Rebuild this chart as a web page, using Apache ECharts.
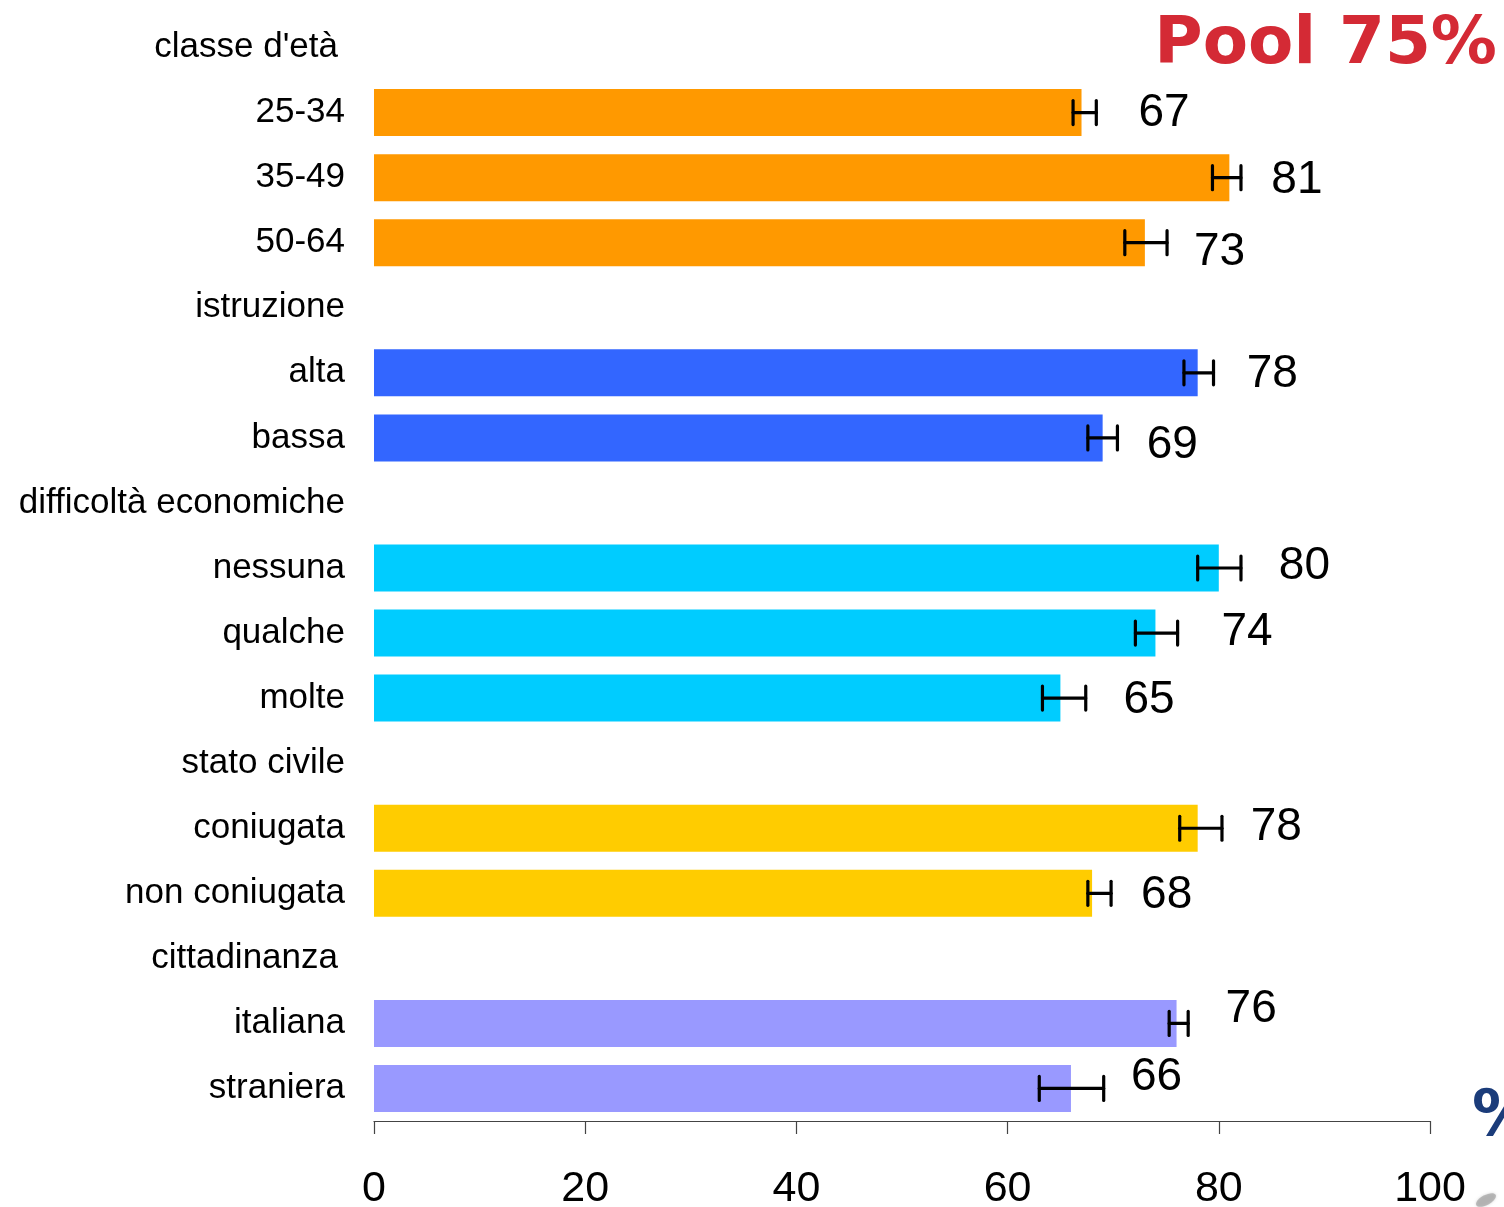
<!DOCTYPE html>
<html>
<head>
<meta charset="utf-8">
<title>Pool 75%</title>
<script src="https://cdn.jsdelivr.net/npm/echarts@6/dist/echarts.min.js"></script>
<style>
  html, body { margin: 0; padding: 0; background: #ffffff; }
  #chart { width: 1504px; height: 1207px; }
</style>
</head>
<body>
<div id="chart"></div>
<script>
// Row labels, top to bottom (group headers have no bar)
const categories = [
  "classe d'età", '25-34', '35-49', '50-64',
  'istruzione', 'alta', 'bassa',
  'difficoltà economiche', 'nessuna', 'qualche', 'molte',
  'stato civile', 'coniugata', 'non coniugata',
  'cittadinanza', 'italiana', 'straniera'
];

// Percentages per row (null on header rows)
const values = [null, 67, 81, 73, null, 78, 69, null, 80, 74, 65, null, 78, 68, null, 76, 66];
// 95% confidence interval bounds
const ciLow  = [null, 66.2, 79.4, 71.1, null, 76.7, 67.6, null, 78.0, 72.1, 63.3, null, 76.3, 67.6, null, 75.3, 63.0];
const ciHigh = [null, 68.4, 82.1, 75.1, null, 79.5, 70.4, null, 82.1, 76.1, 67.4, null, 80.3, 69.8, null, 77.1, 69.1];

const xTicks = [0, 20, 40, 60, 80, 100];

// Bar colour per group
const groupColors = {
  age: '#FF9900', edu: '#3366FF', econ: '#00CCFF', civil: '#FFCC00', citiz: '#9999FF'
};
const rowGroup = [null, 'age', 'age', 'age', null, 'edu', 'edu', null, 'econ', 'econ', 'econ',
  null, 'civil', 'civil', null, 'citiz', 'citiz'];

// Pixel nudges for the value labels [dx from bar end, dy from bar centre]
const labelNudge = [null, [57, 1], [42, 3], [49, 10], null, [49, 1], [44, 7], null,
  [60, -2], [66, -1], [63, 2], null, [53, -1], [49, 2], null, [49, -14], [60, -11]];

const FONT = '"Liberation Sans", Arial, Helvetica, sans-serif';

const chart = echarts.init(document.getElementById('chart'), null, { renderer: 'canvas' });

const barData = values.map((v, i) => v == null ? '-' : {
  value: v,
  itemStyle: { color: groupColors[rowGroup[i]] }
});

const ciData = values.map((v, i) => v == null ? [i, '-', '-'] : [i, ciLow[i], ciHigh[i]]);
const labelData = values.map((v, i) => v == null ? [i, '-'] : [i, v]);

const option = {
  animation: false,
  backgroundColor: '#ffffff',
  grid: { left: 374, right: 74, top: 15, bottom: 86, containLabel: false, outerBoundsMode: 'none' },
  xAxis: {
    type: 'value',
    min: 0, max: 100, interval: 20,
    splitLine: { show: false },
    axisLine: { show: true, lineStyle: { color: '#444444', width: 1.2 } },
    axisTick: { show: true, length: 13, lineStyle: { color: '#444444', width: 1.2 } },
    axisLabel: {
      color: '#000000', fontSize: 43, fontFamily: FONT, margin: 47,
      formatter: v => xTicks.includes(v) ? String(v) : ''
    }
  },
  yAxis: {
    type: 'category',
    data: categories,
    inverse: true,
    axisLine: { show: false },
    axisTick: { show: false },
    axisLabel: {
      color: '#000000', fontSize: 35, fontFamily: FONT, margin: 29,
      formatter: v => (v === "classe d'età" || v === 'cittadinanza') ? '{s|' + v + '}' : v,
      rich: { s: { fontSize: 35, fontFamily: FONT, color: '#000000', padding: [0, 7, 0, 0] } }
    }
  },
  series: [
    {
      type: 'bar',
      data: barData,
      barWidth: 47,
      label: { show: false }
    },
    {
      // confidence-interval whiskers
      type: 'custom',
      data: ciData,
      encode: { y: 0, x: [1, 2] },
      z: 5,
      renderItem: function (params, api) {
        const i = api.value(0);
        const lo = api.value(1), hi = api.value(2);
        if (isNaN(lo) || isNaN(hi)) return null;
        const p0 = api.coord([lo, i]);
        const p1 = api.coord([hi, i]);
        const h = 12;
        const style = { stroke: '#000000', lineWidth: 3.2, lineCap: 'round' };
        return {
          type: 'group',
          children: [
            { type: 'line', shape: { x1: p0[0], y1: p0[1], x2: p1[0], y2: p1[1] }, style },
            { type: 'line', shape: { x1: p0[0], y1: p0[1] - h, x2: p0[0], y2: p0[1] + h }, style },
            { type: 'line', shape: { x1: p1[0], y1: p1[1] - h, x2: p1[0], y2: p1[1] + h }, style }
          ]
        };
      }
    },
    {
      // value labels next to each bar
      type: 'custom',
      data: labelData,
      encode: { y: 0, x: 1 },
      z: 6,
      renderItem: function (params, api) {
        const i = api.value(0);
        const v = api.value(1);
        if (isNaN(v)) return null;
        const p = api.coord([v, i]);
        const n = labelNudge[i];
        return {
          type: 'text',
          x: p[0] + n[0],
          y: p[1] + n[1],
          style: {
            text: String(v),
            fill: '#000000',
            font: '46px ' + FONT,
            align: 'left',
            verticalAlign: 'middle'
          }
        };
      }
    }
  ],
  graphic: [
    {
      type: 'text',
      right: 7, top: 13,
      style: {
        text: 'Pool 75%',
        fill: '#D42A35',
        font: 'bold 66px "DejaVu Sans", Verdana, sans-serif'
      }
    },
    {
      type: 'text',
      left: 1472, top: 1086,
      style: {
        text: '%',
        fill: '#1B3C7A',
        font: 'bold 64px "DejaVu Sans", Verdana, sans-serif'
      }
    },
    {
      type: 'ellipse',
      shape: { cx: 1486, cy: 1200, rx: 11, ry: 5 },
      rotation: 0.5,
      originX: 1486, originY: 1200,
      style: { fill: '#9a9a9a', opacity: 0.6, shadowBlur: 3, shadowColor: '#bbbbbb' }
    }
  ]
};

chart.setOption(option);
</script>
</body>
</html>
